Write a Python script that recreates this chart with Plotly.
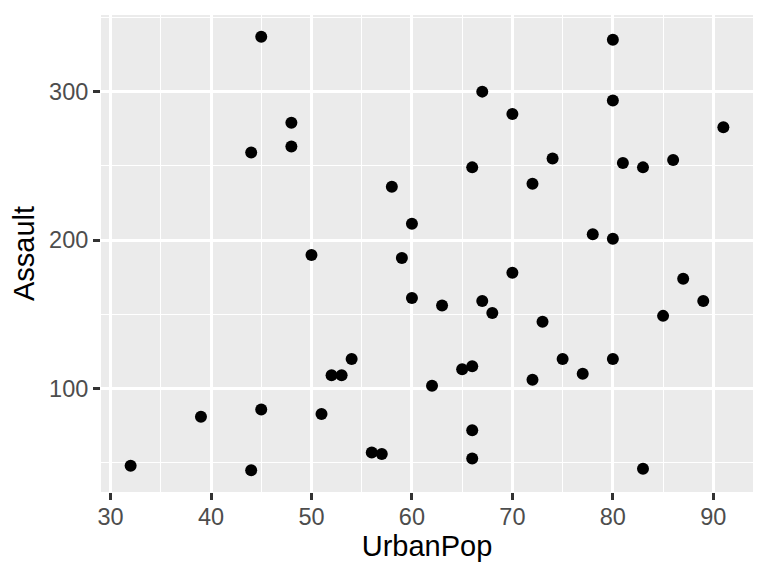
import plotly.graph_objects as go

urban_pop = [58, 48, 80, 50, 91, 78, 77, 72, 80, 60, 83, 54, 83, 65, 57, 66, 52, 66, 51, 67,
             85, 74, 66, 44, 70, 53, 62, 81, 56, 89, 70, 86, 45, 44, 75, 68, 67, 72, 87, 48,
             45, 59, 80, 80, 32, 63, 73, 39, 66, 60]
assault = [236, 263, 294, 190, 276, 204, 110, 238, 335, 211, 46, 120, 249, 113, 56, 115, 109, 249, 83, 300,
           149, 255, 72, 259, 178, 109, 102, 252, 57, 159, 285, 254, 337, 45, 120, 151, 159, 106, 174, 279,
           86, 188, 201, 120, 48, 156, 145, 81, 53, 161]

x_ticks = [30, 40, 50, 60, 70, 80, 90]
y_ticks = [100, 200, 300]

fig = go.Figure(go.Scatter(x=urban_pop, y=assault, mode="markers",
                           marker=dict(color="black", size=12, line=dict(width=0))))

FONT = "Liberation Sans, Arial"
axis_common = dict(
    showgrid=True, gridcolor="white", gridwidth=2.8,
    zeroline=False, showline=False, automargin=False,
    ticks="outside", ticklen=7, tickwidth=2.8, tickcolor="#333333",
    tickfont=dict(family=FONT, size=23.5, color="#4D4D4D"),
    title_font=dict(family=FONT, size=29, color="black"),
)

# the page body has an 8px default margin, so the figure is 8px smaller and margins shifted
fig.update_layout(
    width=760, height=568,
    margin=dict(l=93, r=15, t=7, b=84),
    paper_bgcolor="white", plot_bgcolor="#EBEBEB",
    showlegend=False,
    xaxis=dict(range=[29.05, 93.95], tickvals=x_ticks, title=dict(text="UrbanPop", standoff=5),
               ticklabelstandoff=-3,
               minor=dict(dtick=5, tick0=35, showgrid=True, gridcolor="white", gridwidth=1.4, ticks=""),
               **axis_common),
    yaxis=dict(range=[30.4, 351.6], tickvals=y_ticks, title=dict(text="Assault", standoff=6),
               minor=dict(dtick=50, tick0=50, showgrid=True, gridcolor="white", gridwidth=1.4, ticks=""),
               **axis_common),
)

fig.write_html("out.html")
